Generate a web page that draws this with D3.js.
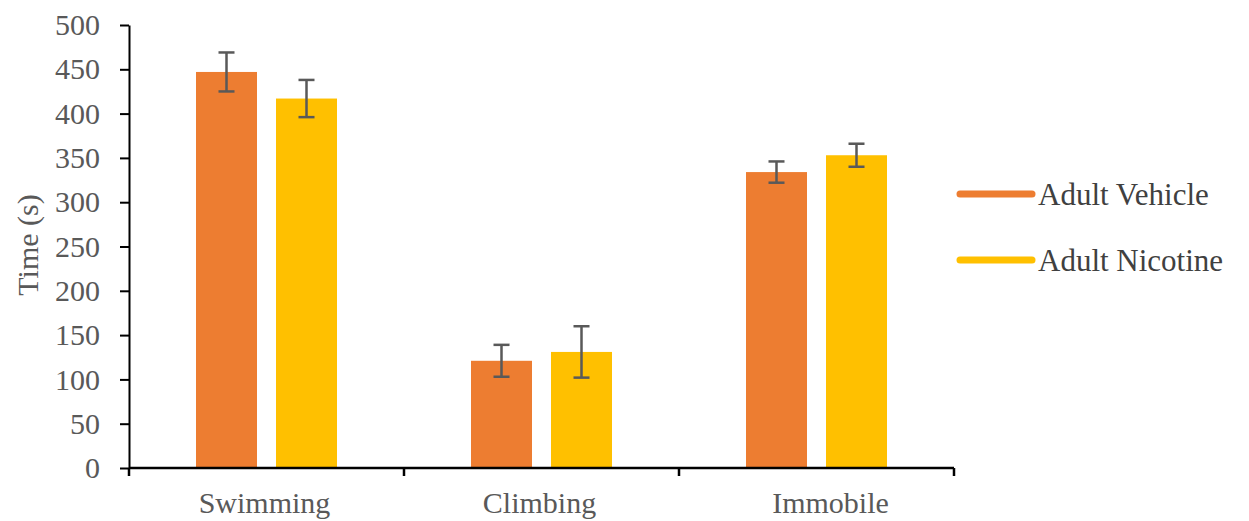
<!DOCTYPE html>
<html>
<head>
<meta charset="utf-8">
<script src="https://cdn.jsdelivr.net/npm/d3@7"></script>
<style>
  html, body { margin: 0; padding: 0; background: #fff; }
  svg { display: block; }
  text { font-family: "Liberation Serif", "Times New Roman", serif; }
</style>
</head>
<body>
<svg id="chart" width="1249" height="521"></svg>
<script>
// Forced swim test: time spent per behaviour
const categories = ["Swimming", "Climbing", "Immobile"];
const seriesNames = ["Adult Vehicle", "Adult Nicotine"];
const vehicleMeans = [447, 121, 334];
const vehicleErrors = [22, 18, 12];
const nicotineMeans = [417, 131, 353];
const nicotineErrors = [21, 29, 13];
const yTicks = [0, 50, 100, 150, 200, 250, 300, 350, 400, 450, 500];
const colors = ["#ED7D31", "#FFC000"];

const series = [
  { name: seriesNames[0], means: vehicleMeans, errors: vehicleErrors, color: colors[0] },
  { name: seriesNames[1], means: nicotineMeans, errors: nicotineErrors, color: colors[1] }
];

const svg = d3.select("#chart");
const plot = { left: 129, right: 954, top: 25, bottom: 468 };

const x = d3.scaleBand().domain(categories).range([plot.left, plot.right]).paddingInner(0).paddingOuter(0);
const y = d3.scaleLinear().domain([0, 500]).range([plot.bottom, plot.top]);

const barWidth = 61, barGap = 19;
const groupWidth = barWidth * 2 + barGap;
const xInner = d3.scaleBand().domain(seriesNames)
  .range([x.bandwidth() / 2 - groupWidth / 2, x.bandwidth() / 2 + groupWidth / 2])
  .paddingInner(barGap / groupWidth * 2 / (1 + barGap / groupWidth));

// bars
const groups = svg.append("g").selectAll("g")
  .data(categories)
  .join("g")
  .attr("transform", c => `translate(${x(c)},0)`);

series.forEach(s => {
  groups.append("rect")
    .attr("x", () => x.bandwidth() / 2 - groupWidth / 2 + (s === series[0] ? 0 : barWidth + barGap))
    .attr("y", (c, i) => y(s.means[i]))
    .attr("width", barWidth)
    .attr("height", (c, i) => y(0) - y(s.means[i]))
    .attr("fill", s.color);
});

// error bars
const capHalf = 8;
series.forEach(s => {
  const cx = () => x.bandwidth() / 2 - groupWidth / 2 + (s === series[0] ? 0 : barWidth + barGap) + barWidth / 2;
  const eb = groups.append("g").attr("stroke", "#595959").attr("stroke-width", 2.5).attr("fill", "none");
  eb.append("line")
    .attr("x1", cx).attr("x2", cx)
    .attr("y1", (c, i) => y(s.means[i] + s.errors[i]))
    .attr("y2", (c, i) => y(s.means[i] - s.errors[i]));
  eb.append("line")
    .attr("x1", () => cx() - capHalf).attr("x2", () => cx() + capHalf)
    .attr("y1", (c, i) => y(s.means[i] + s.errors[i]))
    .attr("y2", (c, i) => y(s.means[i] + s.errors[i]));
  eb.append("line")
    .attr("x1", () => cx() - capHalf).attr("x2", () => cx() + capHalf)
    .attr("y1", (c, i) => y(s.means[i] - s.errors[i]))
    .attr("y2", (c, i) => y(s.means[i] - s.errors[i]));
});

// y axis
const yAxis = svg.append("g")
  .attr("transform", `translate(${plot.left},0)`)
  .call(d3.axisLeft(y).tickValues(yTicks).tickSize(9).tickPadding(20).tickSizeOuter(0));
yAxis.select(".domain").attr("stroke", "#000").attr("stroke-width", 2);
yAxis.selectAll(".tick line").attr("stroke", "#000").attr("stroke-width", 2);
yAxis.selectAll(".tick text")
  .attr("fill", "#595959")
  .style("font-size", "30px")
  .style("font-family", "'Liberation Serif', 'Times New Roman', serif");

// x axis: boundary ticks between categories
const xAxisG = svg.append("g").attr("transform", `translate(0,${plot.bottom})`);
xAxisG.append("line")
  .attr("x1", plot.left).attr("x2", plot.right)
  .attr("stroke", "#000").attr("stroke-width", 2.5);
const boundaries = categories.map(c => x(c)).concat([x(categories[categories.length - 1]) + x.bandwidth()]);
xAxisG.selectAll("line.bt")
  .data(boundaries)
  .join("line")
  .attr("class", "bt")
  .attr("x1", d => d).attr("x2", d => d)
  .attr("y1", 0).attr("y2", 8)
  .attr("stroke", "#000").attr("stroke-width", 2.5);

svg.append("g").selectAll("text")
  .data(categories)
  .join("text")
  .attr("x", c => x(c) + x.bandwidth() / 2)
  .attr("dx", (c, i) => i === categories.length - 1 ? 14 : (i === 0 ? -2 : -2))
  .attr("y", 513)
  .attr("text-anchor", "middle")
  .attr("fill", "#595959")
  .style("font-size", "30px")
  .text(c => c);

// y axis title
svg.append("text")
  .attr("transform", "translate(38,245) rotate(-90)")
  .attr("text-anchor", "middle")
  .attr("fill", "#595959")
  .style("font-size", "30px")
  .text("Time (s)");

// legend
const legend = svg.append("g").selectAll("g")
  .data(series)
  .join("g")
  .attr("transform", (d, i) => `translate(960,${194 + i * 66})`);
legend.append("line")
  .attr("x1", 0).attr("x2", 72)
  .attr("stroke", d => d.color)
  .attr("stroke-width", 7)
  .attr("stroke-linecap", "round");
legend.append("text")
  .attr("x", 78)
  .attr("y", 11)
  .attr("fill", "#404040")
  .style("font-size", "31px")
  .text(d => d.name);
</script>
</body>
</html>
